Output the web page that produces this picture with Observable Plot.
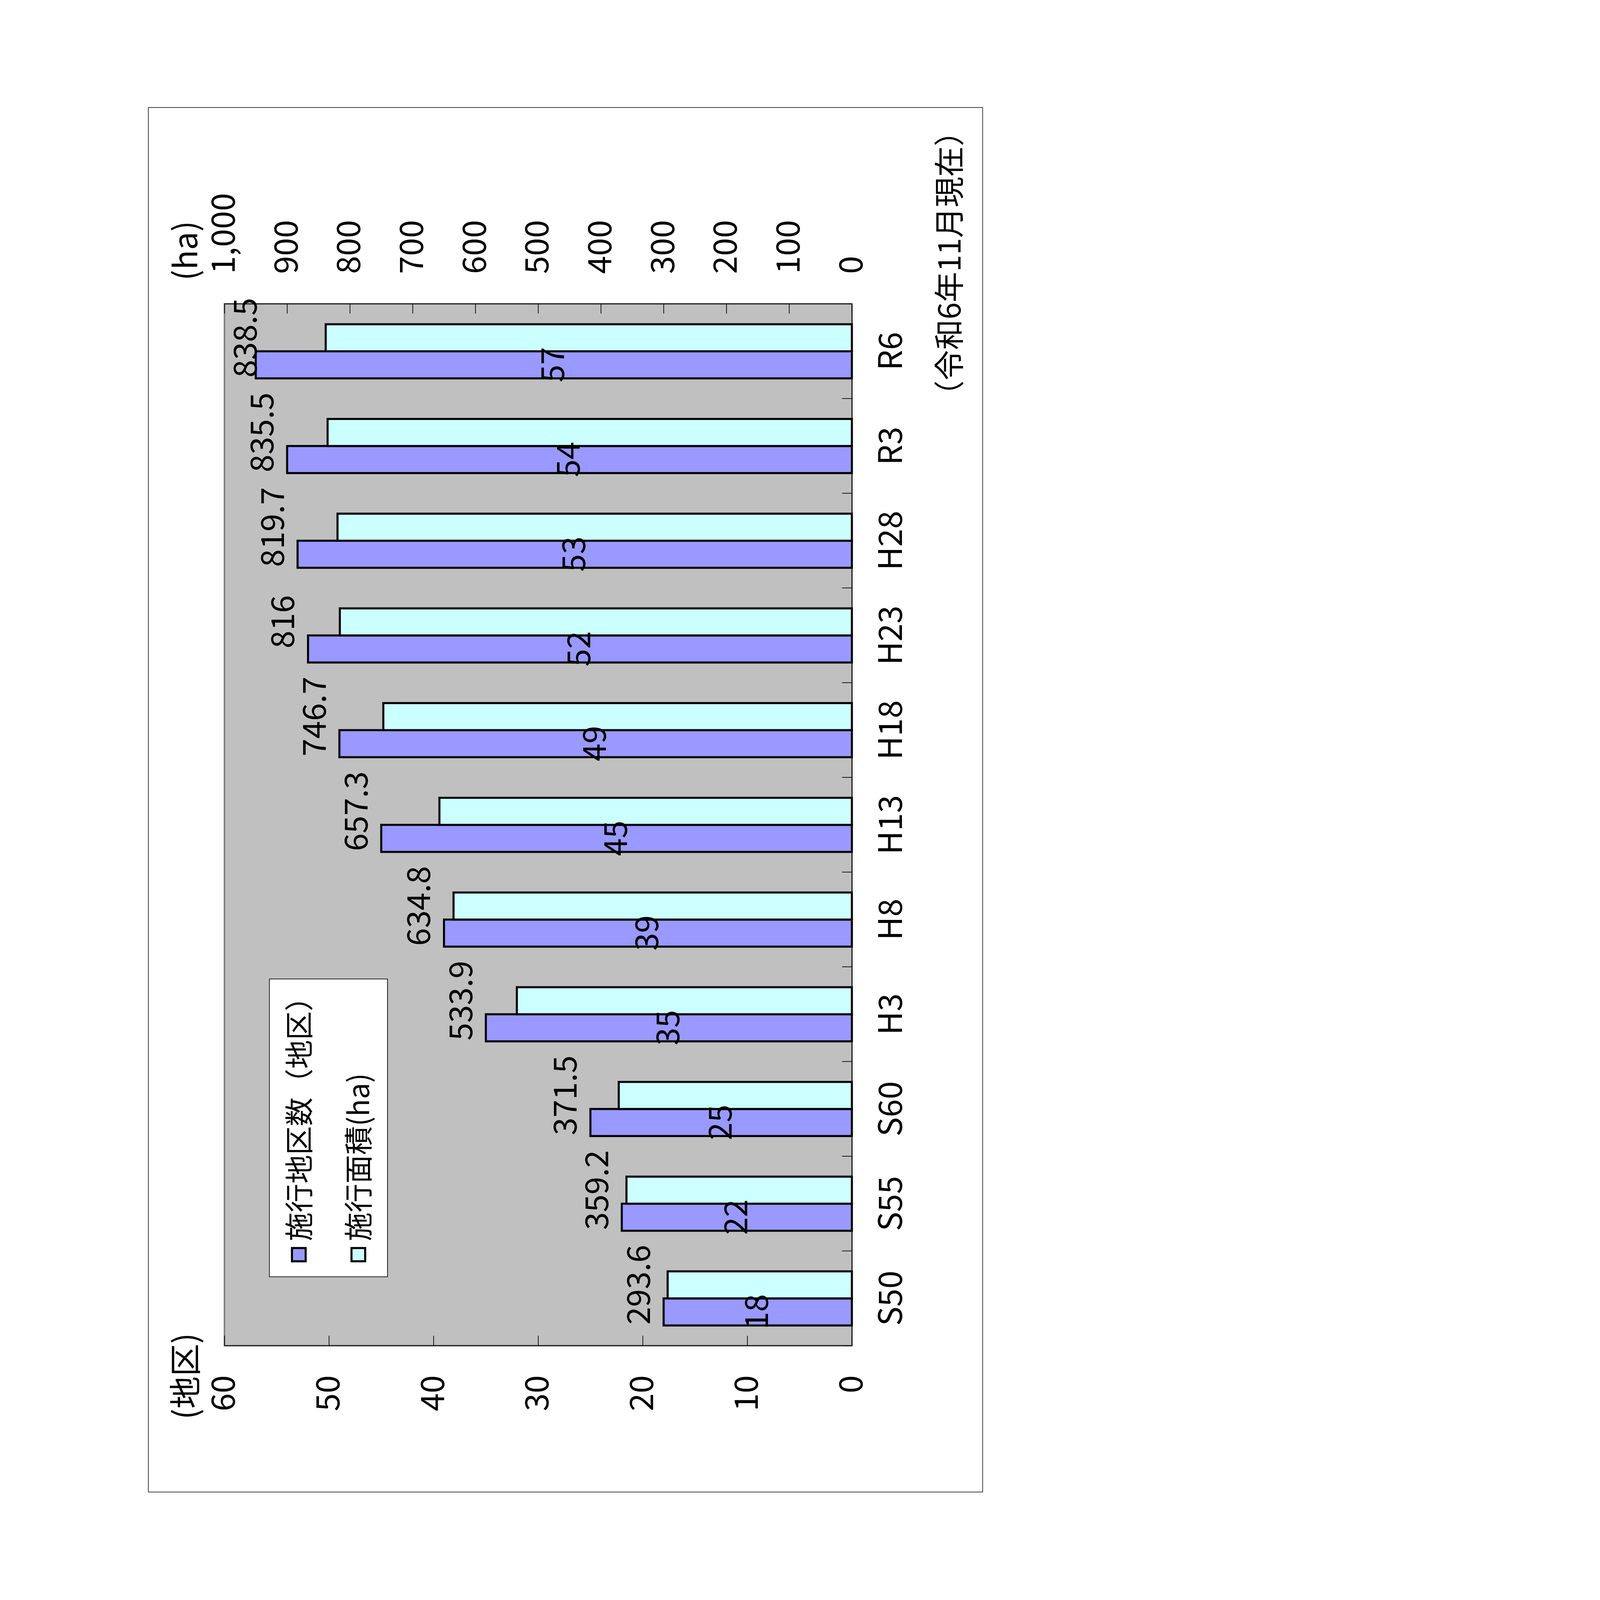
<!DOCTYPE html>
<html>
<head>
<meta charset="utf-8">
<script src="https://cdn.jsdelivr.net/npm/d3@7"></script>
<script src="https://cdn.jsdelivr.net/npm/@observablehq/plot@0.6"></script>
<style>
html, body { margin: 0; padding: 0; background: #fff; overflow: hidden; }
#page { position: absolute; left: 0; top: 0; width: 4958px; height: 7017px; background: #fff; overflow: hidden;
  transform-origin: 0 0; }
#land { position: absolute; left: 0; top: 0; width: 7017px; height: 4958px;
  transform-origin: 0 0; transform: translate(0, 7017px) rotate(-90deg);
  font-family: 'Noto Sans CJK JP', sans-serif; color: #000; }
#chart { position: absolute; left: 0; top: 0; width: 7017px; height: 4958px; }
#frame { position: absolute; left: 472px; top: 649px; width: 6075px; height: 3662px;
  border: 3px solid #222; box-sizing: border-box; }
.lg { position: absolute; box-sizing: border-box; }
</style>
</head>
<body>
<div id="page"><div id="land"><div id="frame"></div><div id="chart"></div></div></div>
<script>
// ---- data ----
const categories = ["S50", "S55", "S60", "H3", "H8", "H13", "H18", "H23", "H28", "R3", "R6"];
const districtCounts = [18, 22, 25, 35, 39, 45, 49, 52, 53, 54, 57];
const areaHa = [293.6, 359.2, 371.5, 533.9, 634.8, 657.3, 746.7, 816, 819.7, 835.5, 838.5];
const countTicks = [0, 10, 20, 30, 40, 50, 60];
const areaTicks = [0, 100, 200, 300, 400, 500, 600, 700, 800, 900, 1000];
const seriesNames = ["施行地区数（地区）", "施行面積(ha)"];
const seriesColors = ["#9999FF", "#CCFFFF"];
const countAxisTitle = "(地区)";
const areaAxisTitle = "(ha)";
const noteText = "（令和6年11月現在）";

// ---- fit the 4958x7017 page into whatever CSS viewport the browser has ----
function fitPage() {
  const s = Math.min(window.innerWidth / 4958, window.innerHeight / 7017);
  document.getElementById("page").style.transform = `scale(${s})`;
}
fitPage();
window.addEventListener("resize", fitPage);

// ---- layout (landscape, rotated afterwards) ----
const W = 7017, H = 4958;
const ml = 1115, mr = 1333, mt = 984, mb = 1222;
const plotW = W - ml - mr, plotH = H - mt - mb;
const bw = plotW / categories.length;
const barW = bw / 3.5;           // Excel gap width 150%
const outer = bw * 0.75 / 3.5;
const k = countTicks[countTicks.length - 1] / areaTicks[areaTicks.length - 1];

const rows = categories.map((c, i) => ({cat: c, count: districtCounts[i], area: areaHa[i]}));
const areaLabelY = d => Math.min(Math.max(d.count, d.area * k) + 2.3, 57.9);
const fmt = d3.format(",");

const chart = Plot.plot({
  width: W, height: H,
  marginLeft: ml, marginRight: mr, marginTop: mt, marginBottom: mb,
  style: {fontFamily: "'Noto Sans CJK JP', sans-serif", color: "#000", background: "transparent", overflow: "visible", maxWidth: "none"},
  x: {type: "band", domain: categories, paddingInner: 0, paddingOuter: 0, round: false},
  y: {domain: [0, 60]},
  marks: [
    Plot.frame({fill: "#C0C0C0", stroke: "#808080", strokeWidth: 7}),
    Plot.barY(rows, {x: "cat", y: "count", fill: seriesColors[0], stroke: "#000", strokeWidth: 9,
      insetLeft: outer, insetRight: bw - outer - barW}),
    Plot.barY(rows, {x: "cat", y: d => d.area * k, fill: seriesColors[1], stroke: "#000", strokeWidth: 9,
      insetLeft: outer + barW, insetRight: outer}),
    // inside tick marks
    Plot.ruleY(countTicks, {y: d => d, insetRight: plotW - 44, stroke: "#000", strokeWidth: 3}),
    Plot.ruleY(areaTicks.map(v => v * k), {y: d => d, insetLeft: plotW - 42, stroke: "#000", strokeWidth: 3}),
    Plot.ruleX(categories, {x: d => d, dx: -bw / 2, insetTop: plotH - 43, stroke: "#000", strokeWidth: 3}),
    // axis lines
    Plot.ruleY([0], {y: d => d, stroke: "#000", strokeWidth: 3}),
    Plot.ruleX([categories[0]], {x: d => d, dx: -bw / 2, stroke: "#000", strokeWidth: 3}),
    Plot.ruleX([categories[categories.length - 1]], {x: d => d, dx: bw / 2, stroke: "#000", strokeWidth: 3}),
    // axes
    Plot.axisY({anchor: "left", ticks: countTicks, tickSize: 0, tickPadding: 130, fontSize: 142, label: null}),
    Plot.axisY({anchor: "right", ticks: areaTicks.map(v => v * k), tickFormat: d => fmt(Math.round(d / k)),
      tickSize: 0, tickPadding: 131, fontSize: 142, label: null}),
    Plot.axisX({anchor: "bottom", tickSize: 0, tickPadding: 118, fontSize: 142, label: null}),
    // value labels
    Plot.text(rows, {x: "cat", y: d => d.count / 2, text: d => String(d.count), dx: -barW / 2,
      fontSize: 140, lineAnchor: "middle"}),
    Plot.text(rows, {x: "cat", y: areaLabelY, text: d => String(d.area), dx: barW / 2,
      fontSize: 140, lineAnchor: "middle"}),
    // axis titles and note
    Plot.text([countAxisTitle], {frameAnchor: "top-left", text: d => d, dx: -324, dy: -164,
      textAnchor: "start", lineAnchor: "middle", fontSize: 142}),
    Plot.text([areaAxisTitle], {frameAnchor: "top-right", text: d => d, dx: 102, dy: -165,
      textAnchor: "start", lineAnchor: "middle", fontSize: 142}),
    Plot.text([noteText], {frameAnchor: "bottom-right", text: d => d, dx: 825, dy: 434,
      textAnchor: "end", lineAnchor: "middle", fontSize: 134})
  ]
});
document.getElementById("chart").appendChild(chart);

// ---- legend (inside plot area) ----
const land = document.getElementById("land");
const box = document.createElement("div");
box.className = "lg";
Object.assign(box.style, {left: "1416px", top: "1180px", width: "1309px", height: "521px",
  border: "3px solid #000", background: "#fff"});
land.appendChild(box);
seriesNames.forEach((name, i) => {
  const cy = 1310 + i * 261;
  const sw = document.createElement("div");
  sw.className = "lg";
  Object.assign(sw.style, {left: "1481px", top: (cy - 34) + "px", width: "67px", height: "69px",
    border: "9px solid #000", background: seriesColors[i]});
  land.appendChild(sw);
  const tx = document.createElement("div");
  tx.className = "lg";
  tx.textContent = name;
  Object.assign(tx.style, {left: "1574px", top: (cy - 70) + "px", fontSize: "126px", lineHeight: "126px",
    whiteSpace: "nowrap"});
  land.appendChild(tx);
});
</script>
</body>
</html>
